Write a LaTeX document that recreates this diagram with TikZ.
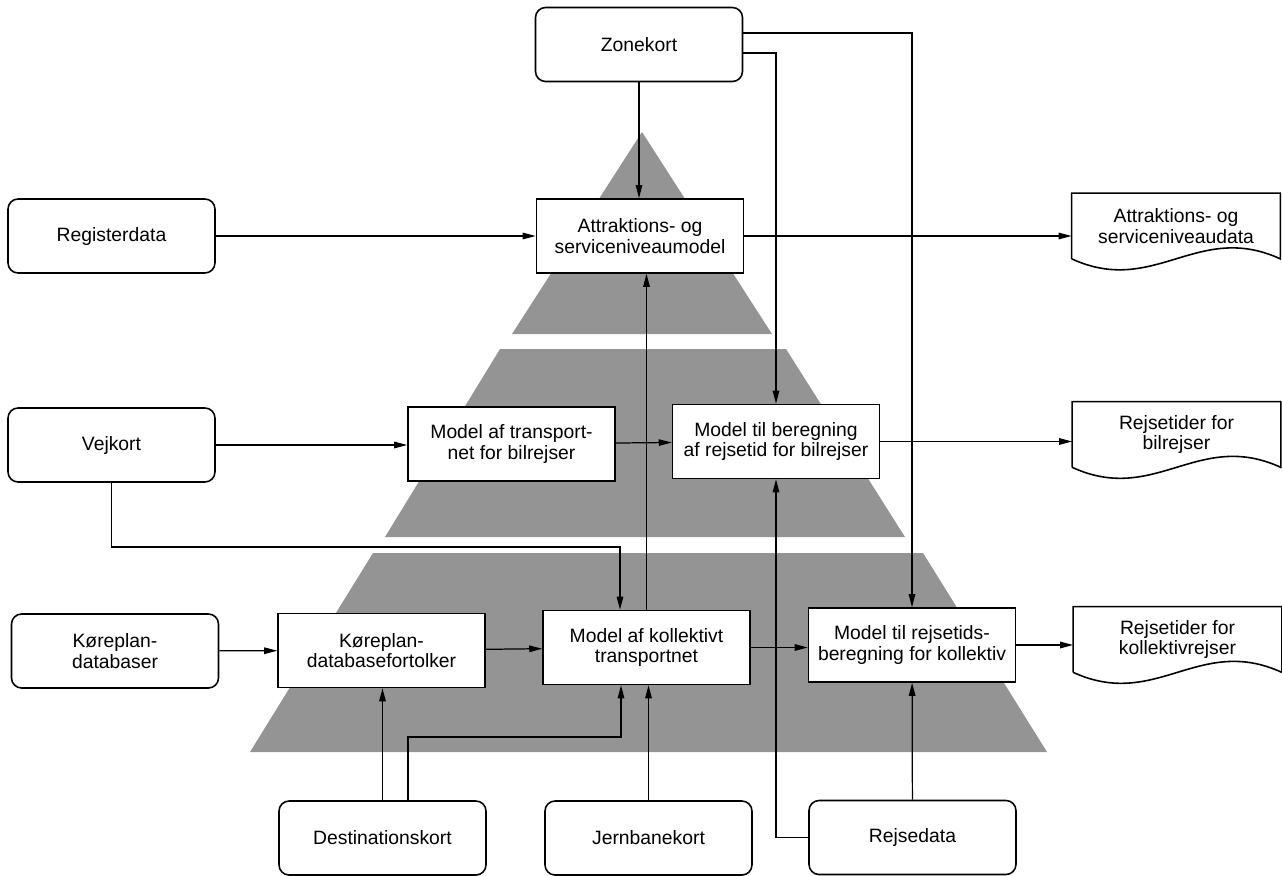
\documentclass[tikz,border=0pt]{standalone}
\usepackage{fontspec}
\setmainfont{Liberation Sans}
\usetikzlibrary{arrows.meta,calc}

\tikzset{
  pil/.style={-{Triangle[length=2.6mm,width=1.3mm]}, line width=0.7pt},
  kilde/.style={draw, line width=0.9pt, rounded corners=2mm, fill=white,
    minimum width=4.14cm, minimum height=1.48cm, align=center},
  model/.style={draw, line width=0.9pt, fill=white,
    minimum width=4.14cm, minimum height=1.48cm, align=center},
  dokument/.style={minimum width=4.16cm, minimum height=1.3cm, align=center},
  lag/.style={fill=black!42},
}

\begin{document}
\begin{tikzpicture}[x=0.02cm,y=-0.02cm,font=\fontsize{11}{11.5}\selectfont]
\useasboundingbox (0,0) rectangle (1282,876);
%% pyramiden
\fill[lag] (642,132) -- (772,334) -- (512,334) -- cycle;
\fill[lag] (500,349) -- (786,349) -- (905,537) -- (385,537) -- cycle;
\fill[lag] (373,553) -- (923,553) -- (1047,752) -- (250,752) -- cycle;

%% kilder
\node[kilde] (zone) at (639,44.5) {Zonekort};
\node[kilde] (reg) at (111.5,236) {Registerdata};
\node[kilde] (vej) at (111.5,445) {Vejkort};
\node[kilde] (kdb) at (115,651) {Køreplan-\\databaser};
\node[kilde] (dest) at (382.5,838) {Destinationskort};
\node[kilde] (jern) at (648.5,838) {Jernbanekort};
\node[kilde] (rdata) at (912.5,837.5) {Rejsedata};

%% modeller
\node[model] (attr) at (640,236) {Attraktions- og\\serviceniveaumodel};
\node[model] (trans) at (511.5,444) {Model af transport-\\net for bilrejser};
\node[model] (bereg) at (776,441.5) {Model til beregning\\af rejsetid for bilrejser};
\node[model] (fort) at (381.5,650.5) {Køreplan-\\databasefortolker};
\node[model] (koll) at (646.5,647.5) {Model af kollektivt\\transportnet};
\node[model] (rtid) at (912,645) {Model til rejsetids-\\beregning for kollektiv};

%% resultater
\node[dokument] (dattr) at (1176,226) {Attraktions- og\\serviceniveaudata};
\node[dokument] (dbil) at (1176.5,434.5) {Rejsetider for\\bilrejser};
\node[dokument] (dkol) at (1177.5,639.5) {Rejsetider for\\kollektivrejser};
\foreach \d in {dattr,dbil,dkol}
  \draw[line width=0.9pt] (\d.south west) -- (\d.north west) -- (\d.north east) -- (\d.south east)
    .. controls ($(\d.south east)+(-83,-38)$) and ($(\d.south west)+(83,38)$) .. (\d.south west);

%% forbindelser
\coordinate (vejknaek) at (111.5,547);
\coordinate (destknaek) at (621,737);
\draw[pil] (zone.south) -- (zone.south |- attr.north);
\draw[pil] ([yshift=0.23cm]zone.east) -| (rtid.north);
\draw[pil] ([yshift=-0.17cm]zone.east) -| (bereg.north);
\draw[pil] (reg) -- (attr);
\draw[pil] (attr.east) -- (attr.east -| dattr.west);
\draw[pil] (vej.east) -- (vej.east -| trans.west);
\draw[pil] (trans) -- (bereg);
\draw[pil] (bereg.east) -- (bereg.east -| dbil.west);
\draw[pil] (vej.south) -- (vejknaek) -| ([xshift=-0.53cm]koll.north);
\draw[pil] (koll.north) -- (koll.north |- attr.south);
\draw[pil] (kdb) -- (fort);
\draw[pil] (fort) -- (koll);
\draw[pil] (koll.east) -- (koll.east -| rtid.west);
\draw[pil] (rtid.east) -- (rtid.east -| dkol.west);
\draw[pil] (dest.north) -- (dest.north |- fort.south);
\draw[pil] ([xshift=0.51cm]dest.north) |- (destknaek) -- (destknaek |- koll.south);
\draw[pil] (jern.north) -- (jern.north |- koll.south);
\draw[pil] (rdata) -- (rtid);
\draw[pil] (rdata.west) -| (bereg.south);
\end{tikzpicture}
\end{document}
